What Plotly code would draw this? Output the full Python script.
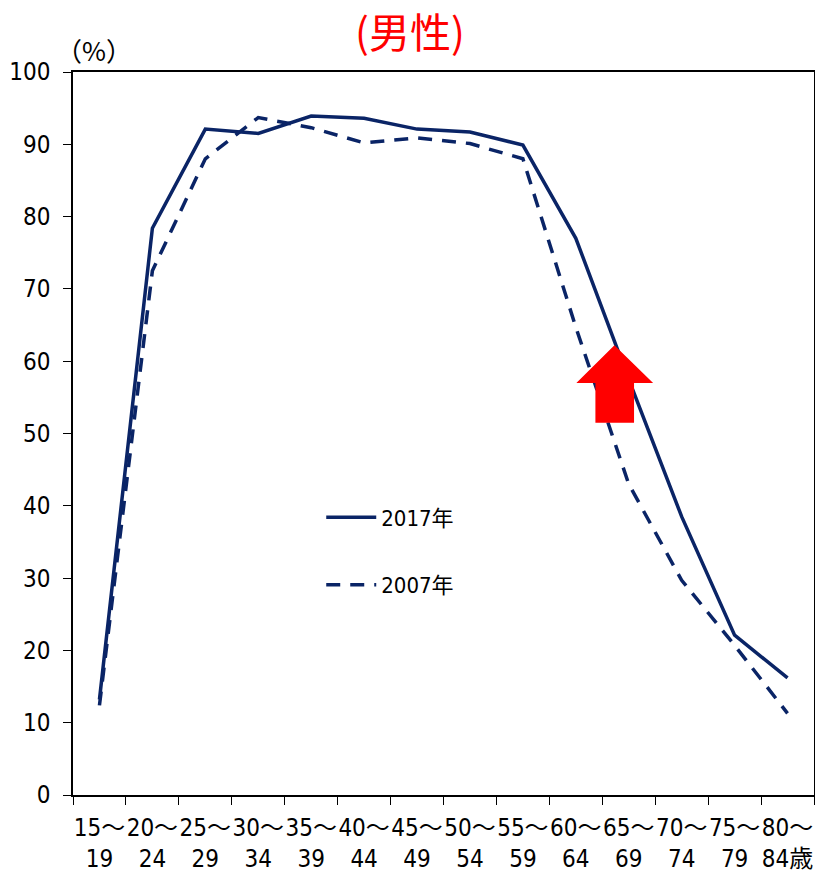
import plotly.graph_objects as go

# Age groups (x-axis categories) and their two-line tick labels
age_groups = ["15〜19", "20〜24", "25〜29", "30〜34", "35〜39", "40〜44", "45〜49",
              "50〜54", "55〜59", "60〜64", "65〜69", "70〜74", "75〜79", "80〜84"]
tick_labels = ["15〜<br>19", "20〜<br>24", "25〜<br>29", "30〜<br>34", "35〜<br>39",
               "40〜<br>44", "45〜<br>49", "50〜<br>54", "55〜<br>59", "60〜<br>64",
               "65〜<br>69", "70〜<br>74", "75〜<br>79", "80〜<br>84歳"]

# Rates by age group (%)
rate_2017 = [13.2, 78.4, 92.1, 91.5, 93.9, 93.6, 92.1, 91.7, 89.9, 77.0, 57.5, 38.5, 22.1, 16.2]
rate_2007 = [12.4, 72.5, 88.0, 93.7, 92.3, 90.2, 90.9, 90.1, 88.0, 64.7, 43.0, 29.7, 20.7, 11.3]

y_ticks = list(range(0, 101, 10))

NAVY = "#0a2466"
FONT = "DejaVu Sans Condensed, Noto Sans CJK JP, sans-serif"

fig = go.Figure()
fig.add_trace(go.Scatter(x=age_groups, y=rate_2017, mode="lines", name="2017年",
                         legendgroup="g2017",
                         line=dict(color=NAVY, width=3.5)))
fig.add_trace(go.Scatter(x=age_groups, y=rate_2007, mode="lines", name="2007年",
                         legendgroup="g2007",
                         line=dict(color=NAVY, width=3.5, dash="14px,10px")))

# Block arrow pointing up near the 65〜69 group (x in category index units)
ax_l, ax_r, ax_c = 9.01, 10.46, 9.73
sh_l, sh_r = 9.37, 10.10
y_tip, y_head, y_base = 62.2, 57.0, 51.5
arrow_path = (f"M {sh_l} {y_base} L {sh_r} {y_base} L {sh_r} {y_head} L {ax_r} {y_head} "
              f"L {ax_c} {y_tip} L {ax_l} {y_head} L {sh_l} {y_head} Z")
fig.add_shape(type="path", path=arrow_path, xref="x", yref="y",
              fillcolor="#ff0000", line=dict(width=0), layer="above")

fig.update_layout(
    width=815, height=873,
    margin=dict(l=73, r=1, t=72, b=78, autoexpand=False),
    paper_bgcolor="white", plot_bgcolor="white",
    font=dict(family=FONT, size=22, color="black"),
    title=dict(text="(男性)", x=0.503, xanchor="center", y=0.962, yanchor="middle",
               font=dict(family="Noto Sans CJK JP, sans-serif", size=41, color="#ff0000")),
    showlegend=True,
    legend=dict(x=0.335, y=0.413, xanchor="left", yanchor="top",
                bgcolor="rgba(0,0,0,0)", font=dict(size=22),
                itemwidth=50, tracegroupgap=36),
    xaxis=dict(type="category", tickmode="array", tickvals=age_groups, ticktext=tick_labels,
               tickson="boundaries", ticks="outside", ticklen=8, tickcolor="black",
               tickangle=0, ticklabelstandoff=10,
               showline=True, linecolor="black", linewidth=1.5, mirror=True,
               showgrid=False, zeroline=False, range=[-0.5, 13.5],
               tickfont=dict(size=24)),
    yaxis=dict(range=[0, 100], tickmode="array", tickvals=y_ticks,
               ticks="outside", ticklen=8, tickcolor="black", ticklabelstandoff=8,
               showline=True, linecolor="black", linewidth=1.5, mirror=True,
               showgrid=False, zeroline=False, tickfont=dict(size=24)),
)

fig.add_annotation(text="（%）", xref="paper", yref="paper", x=-0.025, y=1.0,
                   xanchor="left", yanchor="bottom", yshift=2, showarrow=False,
                   font=dict(family="Noto Sans CJK JP, sans-serif", size=26, color="black"))

fig.write_html("out.html")
